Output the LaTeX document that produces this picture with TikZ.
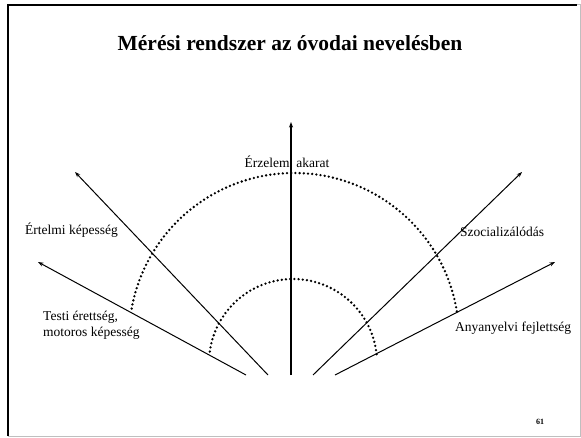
\documentclass[tikz,border=0pt]{standalone}
\usepackage{fontspec}
\setmainfont{Liberation Serif}
\usetikzlibrary{arrows.meta}

\tikzset{
  axis/.style={line width=1pt,-{Stealth[length=5.5pt,width=4pt]}},
  dots/.style={line width=2.6pt,line cap=round,dash pattern=on 0pt off 4.2pt},
  lbl/.style={font=\fontsize{13.5}{16}\selectfont,inner sep=0pt}
}

\begin{document}
\begin{tikzpicture}[x=1pt,y=1pt]
\useasboundingbox (0,0) rectangle (581,437);
\draw[line width=2.2pt] (8,1) -- (8,432) -- (577,432);
\draw[black!25,line width=1pt] (577,432) -- (580,432) -- (580,1) -- (8,1);

\node[font=\fontsize{21.5}{26}\selectfont\bfseries] (title) at (290,394) {Mérési rendszer az óvodai nevelésben};

\coordinate (sA) at (246,62);
\coordinate (sB) at (268,62);
\coordinate (sC) at (291,62);
\coordinate (sD) at (313,62);
\coordinate (sE) at (335,62);
\coordinate (tA) at (38,175);
\coordinate (tB) at (75,265);
\coordinate (tC) at (291,315);
\coordinate (tD) at (522,265);
\coordinate (tE) at (555,175);

\draw[axis] (sA) -- (tA);
\draw[axis] (sB) -- (tB);
\draw[axis,line width=1.5pt] (sC) -- (tC);
\draw[axis] (sD) -- (tD);
\draw[axis] (sE) -- (tE);

\coordinate (big) at (294,99);
\coordinate (small) at (293,74);
\draw[dots] (big) ++(9.3:165) arc[start angle=9.3,end angle=170.7,radius=165];
\draw[dots] (small) ++(6:84) arc[start angle=6,end angle=174,radius=84];

\node[lbl] (erzelem) at (287,274) {Érzelem, akarat};
\node[lbl,anchor=west] (ertelmi) at (25,207) {Értelmi képesség};
\node[lbl,anchor=west,align=left] (testi) at (43,112) {Testi érettség,\\motoros képesség};
\node[lbl,anchor=west] (szoc) at (460,205) {Szocializálódás};
\node[lbl,anchor=west] (anya) at (455,109) {Anyanyelvi fejlettség};
\node[font=\fontsize{8}{9}\selectfont\bfseries] (page) at (540,15) {61};

\end{tikzpicture}
\end{document}
